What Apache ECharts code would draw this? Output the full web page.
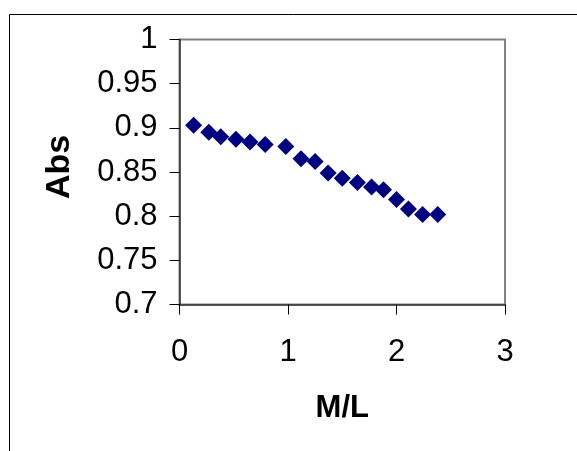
<!DOCTYPE html>
<html>
<head>
<meta charset="utf-8">
<script src="https://cdn.jsdelivr.net/npm/echarts@6/dist/echarts.min.js"></script>
<style>
  html, body { margin: 0; padding: 0; background: #fff; }
  #chart { width: 577px; height: 451px; }
</style>
</head>
<body>
<div id="chart"></div>
<script>
// M/L ratio (x) and absorbance (y)
var mlValues = [0.13, 0.27, 0.38, 0.52, 0.65, 0.79, 0.98, 1.12, 1.25, 1.37, 1.50, 1.64, 1.77, 1.88, 2.00, 2.11, 2.24, 2.38];
var absValues = [0.903, 0.895, 0.890, 0.887, 0.884, 0.881, 0.879, 0.865, 0.862, 0.849, 0.843, 0.838, 0.833, 0.830, 0.819, 0.808, 0.802, 0.802];

var xTicks = [0, 1, 2, 3];
var yTicks = [0.7, 0.75, 0.8, 0.85, 0.9, 0.95, 1];

var points = [];
for (var i = 0; i < mlValues.length; i++) {
    points.push([mlValues[i], absValues[i]]);
}

var myChart = echarts.init(document.getElementById('chart'), null, { renderer: 'canvas' });

myChart.setOption({
    animation: false,
    backgroundColor: '#fff',
    grid: {
        left: 179.5,
        right: 72,
        top: 39.5,
        bottom: 146.5,
        show: true,
        borderColor: '#808080',
        borderWidth: 2
    },
    xAxis: {
        type: 'value',
        min: xTicks[0],
        max: xTicks[xTicks.length - 1],
        interval: 1,
        name: 'M/L',
        nameLocation: 'middle',
        nameGap: 88,
        nameTextStyle: { fontFamily: 'Liberation Sans', fontSize: 31, fontWeight: 'bold', color: '#000' },
        axisLine: { show: true, lineStyle: { color: '#333', width: 1.5 } },
        axisTick: { show: true, inside: false, length: 10, lineStyle: { color: '#000' } },
        axisLabel: { margin: 32, fontFamily: 'Liberation Sans', fontSize: 31, color: '#000' },
        splitLine: { show: false }
    },
    yAxis: {
        type: 'value',
        min: yTicks[0],
        max: yTicks[yTicks.length - 1],
        interval: 0.05,
        name: 'Abs',
        nameLocation: 'middle',
        nameGap: 103,
        nameRotate: 90,
        nameTextStyle: { fontFamily: 'Liberation Sans', fontSize: 34, fontWeight: 'bold', color: '#000', padding: [0, 0, 0, 10] },
        axisLine: { show: true, lineStyle: { color: '#333', width: 1.5 } },
        axisTick: { show: true, inside: false, length: 10, lineStyle: { color: '#000' } },
        axisLabel: {
            margin: 22,
            fontFamily: 'Liberation Sans',
            fontSize: 31,
            color: '#000',
            formatter: function (v) { return String(parseFloat(v.toFixed(2))); }
        },
        splitLine: { show: false }
    },
    series: [{
        type: 'scatter',
        symbol: 'diamond',
        symbolSize: 17,
        itemStyle: { color: '#000080', opacity: 1 },
        data: points
    }],
    graphic: [{
        type: 'polyline',
        shape: { points: [[9.5, 451], [9.5, 14.5], [577, 14.5]] },
        style: { stroke: '#000', lineWidth: 1, fill: null }
    }]
});
</script>
</body>
</html>
